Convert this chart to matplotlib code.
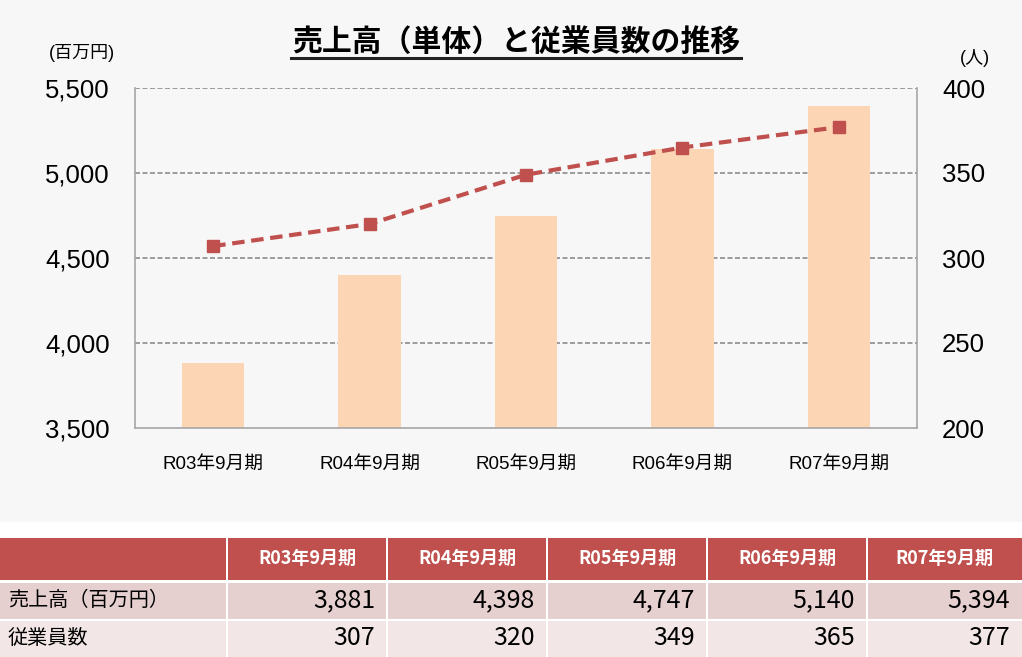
import matplotlib
matplotlib.use("Agg")
import matplotlib.pyplot as plt
from matplotlib.patches import Rectangle
from matplotlib.lines import Line2D
import numpy as np

plt.rcParams['font.family'] = ['Liberation Sans', 'Noto Sans CJK JP', 'DejaVu Sans']

categories = ["R03年9月期", "R04年9月期", "R05年9月期", "R06年9月期", "R07年9月期"]
sales = [3881, 4398, 4747, 5140, 5394]
employees = [307, 320, 349, 365, 377]
left_ticks = [3500, 4000, 4500, 5000, 5500]
right_ticks = [200, 250, 300, 350, 400]
row_labels = ["売上高（百万円）", "従業員数"]
title = "売上高（単体）と従業員数の推移"

W, H = 1022, 657
fig = plt.figure(figsize=(W/100, H/100), dpi=100)
fig.patch.set_facecolor('white')

# background panel for chart
bg = fig.add_axes([0, 1-522/H, 1, 522/H])
bg.set_facecolor('#f7f7f7')
bg.set_xticks([]); bg.set_yticks([])
for s in bg.spines.values():
    s.set_visible(False)

ax_l, ax_r, ax_t, ax_b = 135, 917, 88, 428
ax = fig.add_axes([ax_l/W, 1-ax_b/H, (ax_r-ax_l)/W, (ax_b-ax_t)/H])
ax.set_facecolor('#f7f7f7')
x = np.arange(len(categories))
ax.bar(x, [s - 3500 for s in sales], bottom=3500, width=0.4, color='#fcd5b5', zorder=2)
ax.set_xlim(-0.5, len(categories)-0.5)
ax.set_ylim(3500, 5500)
ax.set_yticks(left_ticks)
ax.set_yticklabels([f"{v:,}" for v in left_ticks], fontsize=18.5)
ax.set_xticks(x)
ax.set_xticklabels(categories, fontsize=13.5)
ax.tick_params(axis='x', length=0, pad=20)
ax.tick_params(axis='y', length=0, pad=18)
for v in left_ticks[1:]:
    ax.axhline(v, color='#8c8c8c', lw=1.2, ls=(0, (3, 1.5)), zorder=1)
for side in ['left', 'bottom']:
    ax.spines[side].set_color('#a6a6a6')
    ax.spines[side].set_linewidth(1.2)
ax.spines['top'].set_visible(False)
ax.spines['right'].set_color('#a6a6a6')
ax.spines['right'].set_linewidth(1.2)

ax2 = ax.twinx()
ax2.plot(x, employees, color='#c0504d', lw=3, ls=(0, (3, 1.6)), marker='s', ms=9, zorder=5)
ax2.set_ylim(200, 400)
ax2.set_yticks(right_ticks)
ax2.set_yticklabels([str(v) for v in right_ticks], fontsize=18.5)
ax2.tick_params(axis='y', length=0, pad=18)
for s in ax2.spines.values():
    s.set_visible(False)

fig.text(82/W, 1-53/H, "(百万円)", fontsize=13, ha='center', va='center')
fig.text(975/W, 1-58/H, "(人)", fontsize=13, ha='center', va='center')
fig.text(516/W, 1-42/H, title, fontsize=21.5, fontweight='bold', ha='center', va='center',
         family=['Noto Sans CJK JP'])
fig.add_artist(Line2D([291/W, 741/W], [1-58/H, 1-58/H], color='#222222', lw=2.2))

# table
tb = fig.add_axes([0, 0, 1, 1])
tb.set_xlim(0, W); tb.set_ylim(H, 0)
tb.axis('off')
tb.patch.set_alpha(0)
col_edges = [0, 227, 387, 547, 707, 867, 1022]
rows = [(538, 580, '#c0504d'), (583, 619, '#e6cfcf'), (621, 657, '#f2e6e6')]
gap = 2
for (y0, y1, c) in rows:
    for i in range(len(col_edges)-1):
        xa = col_edges[i] + (gap/2 if i > 0 else 0)
        xb = col_edges[i+1] - (gap/2 if i < len(col_edges)-2 else 0)
        tb.add_patch(Rectangle((xa, y0), xb-xa, y1-y0, color=c, lw=0))
for i, cat in enumerate(categories):
    cx = (col_edges[i+1] + col_edges[i+2]) / 2
    tb.text(cx, 558, cat, color='white', fontsize=13, fontweight='bold', ha='center', va='center',
            family=['Noto Sans CJK JP'])
tb.text(8, 600, row_labels[0], fontsize=14.5, ha='left', va='center', family=['Noto Sans CJK JP'])
tb.text(8, 638, row_labels[1], fontsize=14.5, ha='left', va='center', family=['Noto Sans CJK JP'])
for i in range(len(categories)):
    rx = col_edges[i+2] - 12
    tb.text(rx, 600, f"{sales[i]:,}", fontsize=18, ha='right', va='center', family=['Noto Sans CJK JP'])
    tb.text(rx, 638, f"{employees[i]}", fontsize=18, ha='right', va='center', family=['Noto Sans CJK JP'])

fig.savefig("out.png", dpi=100, facecolor=fig.get_facecolor())
